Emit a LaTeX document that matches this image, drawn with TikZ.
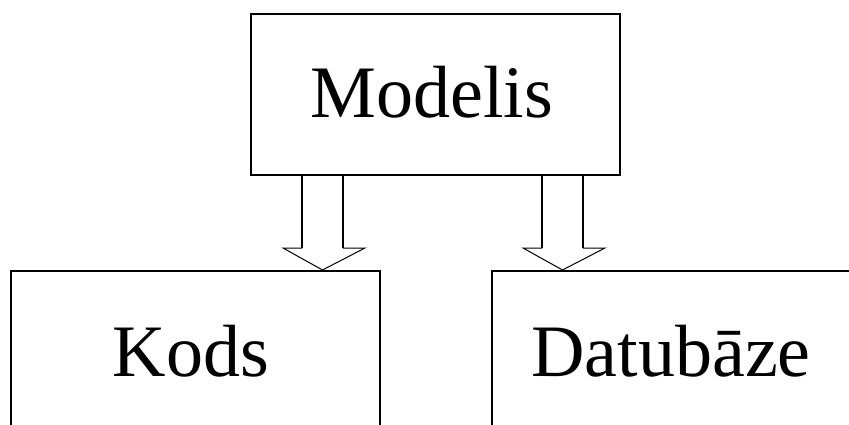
\documentclass[tikz,border=0pt]{standalone}
\usepackage{fontspec}
\setmainfont{Liberation Serif}
\usetikzlibrary{calc}
\begin{document}
\begin{tikzpicture}[x=1pt,y=-1pt,
  box/.style={draw=black,line width=2pt,minimum width=369pt,inner sep=0pt,anchor=north west},
  lbl/.style={font=\fontsize{74}{80}\selectfont,anchor=base,inner sep=0pt},
  shaft/.style={draw=black,line width=2pt},
  head/.style={draw=black,line width=1pt}]
\useasboundingbox (0,0) rectangle (849,425);
\clip (0,0) rectangle (849,425);
\node[box,minimum height=161pt] (m) at (250,13) {};
\node[box,minimum height=200pt] (k) at (10,270) {};
\node[box,minimum height=200pt] (d) at (491,270) {};
\node[lbl] (mt) at (432,118) {Modelis};
\node[lbl] (kt) at (191,376) {Kods};
\node[lbl] (dt) at (671,376) {Datubāze};
\coordinate (t1) at (322.5,270);
\coordinate (t2) at (562.5,270);
\foreach \t/\n in {t1/a,t2/b}{
  \draw[shaft] (\t |- m.south) ++(-20.5,0) -- ++(0,72) coordinate (\n1);
  \draw[shaft] (\t |- m.south) ++(20.5,0) -- ++(0,72) coordinate (\n2);
  \draw[head] (\n1) -- ++(-19,0) -- (\t) -- ($(\n2)+(22,0)$) -- (\n2);
}
\end{tikzpicture}
\end{document}
